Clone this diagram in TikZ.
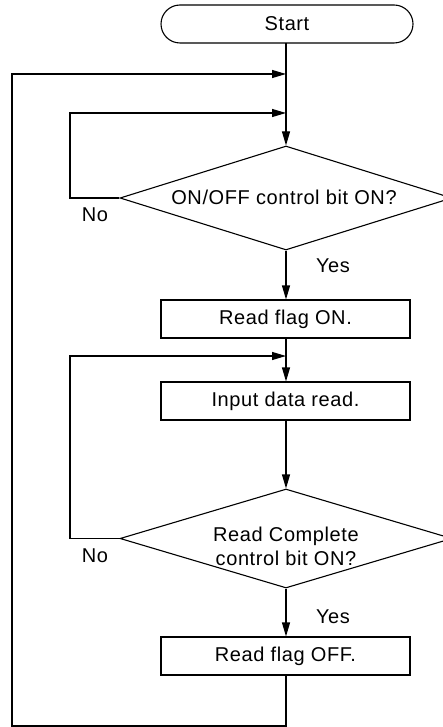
\documentclass[tikz,border=0pt]{standalone}
\usepackage{fontspec}
\setmainfont{Liberation Sans}[LetterSpace=3]
\usetikzlibrary{arrows.meta,shapes.geometric}
\begin{document}
\begin{tikzpicture}[x=1pt,y=1pt,
  every node/.style={font=\fontsize{20}{24}\selectfont},
  ln/.style={line width=1.1pt},
  arr/.style={ln,-{Triangle[length=14pt,width=8pt]}},
  term/.style={draw,ln,rectangle,rounded corners=19pt,minimum width=252pt,minimum height=38pt,inner sep=0pt},
  proc/.style={draw,ln,rectangle,minimum width=249pt,minimum height=38pt,inner sep=0pt},
  dec/.style={draw,ln,diamond,aspect=3.2,minimum width=332pt,minimum height=104pt,inner sep=0pt},
  lbl/.style={inner sep=0pt}]
\clip (0,0) rectangle (443,-727);
\fill[white] (0,0) rectangle (443,-727);
\node[term] (start) at (287,-24) {Start};
\node[dec] (d1) at (286,-198) {};
\node[lbl] (d1t) at (284,-197) {ON/OFF control bit ON?};
\node[proc] (b1) at (285.5,-319) {Read flag ON.};
\node[proc] (b2) at (285.5,-401) {Input data read.};
\node[dec,minimum height=99pt] (d2) at (286,-538.5) {};
\node[lbl,align=center] (d2t) at (286,-546) {Read Complete\\control bit ON?};
\node[proc] (b3) at (285.5,-656) {Read flag OFF.};
\node[lbl] (no1) at (95,-215) {No};
\node[lbl] (no2) at (95,-556) {No};
\node[lbl] (yes1) at (333,-266) {Yes};
\node[lbl] (yes2) at (333,-617) {Yes};
\coordinate (m1) at (286,-74);
\coordinate (m2) at (286,-113);
\coordinate (m3) at (286,-356);
\coordinate (l1) at (70,-113);
\coordinate (l2) at (70,-356);
\coordinate (bl) at (12,-726);
\coordinate (s0) at (286,-43);
\draw[arr] (s0) -- (d1.north);
\draw[arr] (d1.west) -| (l1) -- (m2);
\draw[arr] (d1.south) -- (b1.north -| d1.south);
\draw[arr] (b1.south -| d1.south) -- (b2.north -| d1.south);
\draw[arr] (d2.west) -| (l2) -- (m3);
\draw[arr] (b2.south -| d2.north) -- (d2.north);
\draw[arr] (d2.south) -- (b3.north -| d2.south);
\draw[arr] (b3.south -| d2.south) |- (bl) |- (m1);
\end{tikzpicture}
\end{document}
